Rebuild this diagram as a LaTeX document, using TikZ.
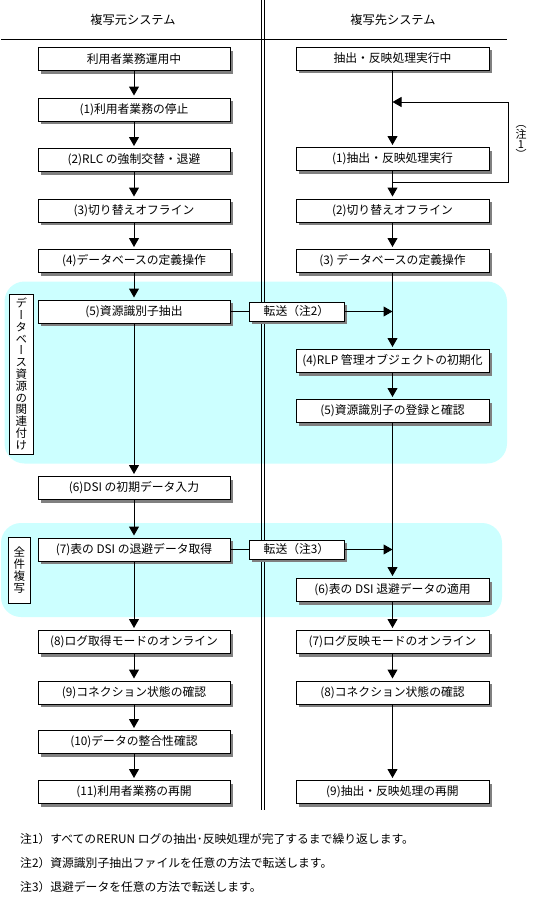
\documentclass[tikz,border=0pt]{standalone}
\usepackage{fontspec}
\setmainfont{Noto Sans CJK JP}
\newfontfamily\vertfont[RawFeature=+vert]{Noto Sans CJK JP}
\usetikzlibrary{arrows.meta}
\definecolor{cyanbg}{HTML}{CCFFFF}
\definecolor{shadowgray}{HTML}{808080}
\newcommand\boxfont{\fontsize{11.8}{13}\selectfont}
\newcommand\notefont{\fontsize{11.8}{13}\selectfont}
\newcommand\headfont{\fontsize{12.2}{14}\selectfont}
\newcommand\vlabfont{\vertfont\fontsize{11.5}{11.8}\selectfont}
\newcommand\vnotefont{\vertfont\fontsize{11}{8.5}\selectfont}
\begin{document}
\begin{tikzpicture}[x=1pt,y=-1pt,
  every node/.style={inner sep=0pt, text=black},
  shadowed/.style={preaction={draw=none, fill=shadowgray, transform canvas={shift={(3pt,-3pt)}}}},
  stepbox/.style={draw, line width=1pt, fill=white, minimum height=23pt, font=\boxfont, shadowed},
  lbox/.style={stepbox, minimum width=192pt},
  rbox/.style={stepbox, minimum width=193pt},
  tbox/.style={stepbox, minimum width=95pt, minimum height=19pt},
  labbox/.style={draw, line width=1pt, fill=white, align=center},
  conn/.style={line width=1pt},
  arr/.style={line width=1pt, -{Triangle[length=9pt,width=10pt]}, shorten >=2pt},
]
\useasboundingbox (0,0) rectangle (534,902);
\fill[white] (0,0) rectangle (534,902);

% cyan regions
\fill[cyanbg, rounded corners=20pt] (4.5,281.5) rectangle (507,463.5);
\fill[cyanbg, rounded corners=20pt] (1,523) rectangle (502,617);

% headers and separators
\node[font=\headfont] (hl) at (133,20) {複写元システム};
\node[font=\headfont] (hr) at (393,20) {複写先システム};
\coordinate (hA) at (1,39.5);
\coordinate (hB) at (507,39.5);
\draw[conn] (hA) -- (hB);
\coordinate (vA1) at (261.5,0);
\coordinate (vA2) at (261.5,810);
\coordinate (vB1) at (264,0);
\coordinate (vB2) at (264,810);
\draw[conn] (vA1) -- (vA2);
\draw[conn] (vB1) -- (vB2);

% left column
\node[lbox] (L0) at (134,59) {利用者業務運用中};
\node[lbox] (L1) at (134,109.5) {(1)利用者業務の停止};
\node[lbox] (L2) at (134,160) {(2)RLC の強制交替・退避};
\node[lbox] (L3) at (134,210.5) {(3)切り替えオフライン};
\node[lbox] (L4) at (134,261) {(4)データベースの定義操作};
\node[lbox] (L5) at (134,311.5) {(5)資源識別子抽出};
\node[lbox] (L6) at (134,488) {(6)DSI の初期データ入力};
\node[lbox] (L7) at (134,549.5) {(7)表の DSI の退避データ取得};
\node[lbox] (L8) at (134,642) {(8)ログ取得モードのオンライン};
\node[lbox] (L9) at (134,692.5) {(9)コネクション状態の確認};
\node[lbox] (L10) at (134,742) {(10)データの整合性確認};
\node[lbox] (L11) at (134,792) {(11)利用者業務の再開};

% right column
\node[rbox] (R0) at (392.5,58.5) {抽出・反映処理実行中};
\node[rbox] (R1) at (392.5,159) {(1)抽出・反映処理実行};
\node[rbox] (R2) at (392.5,210.5) {(2)切り替えオフライン};
\node[rbox] (R3) at (392.5,261) {(3) データベースの定義操作};
\node[rbox] (R4) at (392.5,361) {(4)RLP 管理オブジェクトの初期化};
\node[rbox] (R5) at (392.5,411) {(5)資源識別子の登録と確認};
\node[rbox] (R6) at (392.5,590) {(6)表の DSI 退避データの適用};
\node[rbox] (R7) at (392.5,642) {(7)ログ反映モードのオンライン};
\node[rbox] (R8) at (392.5,692.5) {(8)コネクション状態の確認};
\node[rbox] (R9) at (392.5,792) {(9)抽出・反映処理の再開};

% left arrows
\foreach \a/\b in {L0/L1,L1/L2,L2/L3,L3/L4,L4/L5,L5/L6,L6/L7,L7/L8,L8/L9,L9/L10,L10/L11}
  \draw[arr] (\a) -- (\b);
% right arrows
\foreach \a/\b in {R0/R1,R1/R2,R2/R3,R3/R4,R4/R5,R5/R6,R6/R7,R7/R8,R8/R9}
  \draw[arr] (\a) -- (\b);

% loop (note 1)
\coordinate (lp1) at (392.5,182);
\coordinate (lp2) at (508,182);
\coordinate (lp3) at (508,102);
\coordinate (lp4) at (392.5,102);
\draw[conn, -{Triangle[length=9pt,width=10pt]}] (lp1) -- (lp2) -- (lp3) -- (lp4);
\node[font=\vnotefont, align=center] (n1v) at (521,142) {（\\注\\1\\）};

% transfers
\node[tbox] (T1) at (296.5,311.5) {転送（注2）};
\coordinate (j1) at (392.5,311.5);
\draw[conn] (L5) -- (T1);
\draw[conn, -{Triangle[length=9pt,width=10pt]}] (T1) -- (j1);
\node[tbox] (T2) at (296.5,549.5) {転送（注3）};
\coordinate (j2) at (392.5,549.5);
\draw[conn] (L7) -- (T2);
\draw[conn, -{Triangle[length=9pt,width=10pt]}] (T2) -- (j2);

% region labels
\node[labbox, minimum width=24pt, minimum height=160pt, font=\vlabfont] (lab1) at (21.3,374) {デ\\ー\\タ\\ベ\\ー\\ス\\資\\源\\の\\関\\連\\付\\け};
\node[labbox, minimum width=22.6pt, minimum height=66pt, font=\vlabfont] (lab2) at (19.3,570) {全\\件\\複\\写};

% notes
\node[anchor=west, font=\notefont] (n1) at (20,839) {注1）すべてのRERUN ログの抽出･反映処理が完了するまで繰り返します。};
\node[anchor=west, font=\notefont] (n2) at (20,863) {注2）資源識別子抽出ファイルを任意の方法で転送します。};
\node[anchor=west, font=\notefont] (n3) at (20,887) {注3）退避データを任意の方法で転送します。};
\end{tikzpicture}
\end{document}
